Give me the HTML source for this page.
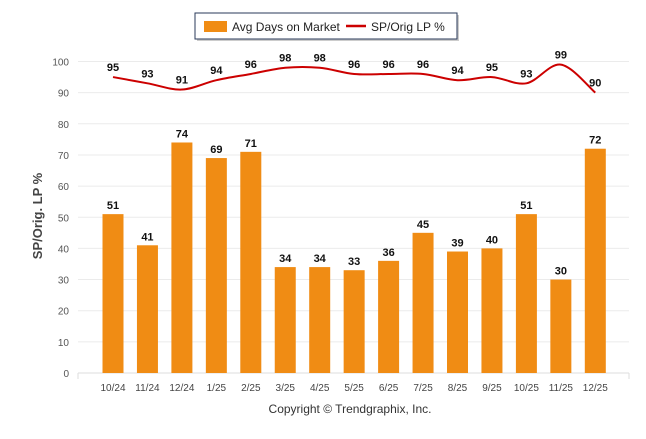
<!DOCTYPE html>
<html><head><meta charset="utf-8"><style>
body{margin:0;background:#fff;font-family:"Liberation Sans",Arial,sans-serif}
</style></head><body>
<svg id="chart" width="646" height="434" xmlns="http://www.w3.org/2000/svg" font-family="Liberation Sans, Arial, sans-serif">
<g>
<rect x="197" y="15" width="262" height="26" fill="#999" opacity="0.5"/>
<rect x="195" y="13" width="262" height="26" fill="#fff" stroke="#2a3a5a" stroke-width="1"/>
<rect x="204" y="21" width="23" height="11" fill="#f08c14"/>
<text x="232" y="31" font-size="12" fill="#222">Avg Days on Market</text>
<line x1="346" y1="26" x2="366" y2="26" stroke="#cc0000" stroke-width="2.5"/>
<text x="371" y="31" font-size="12" fill="#222">SP/Orig LP %</text>
</g>
<g id="grid"></g>
<g id="yticks"></g>
<text transform="translate(42,216) rotate(-90)" text-anchor="middle" font-size="13" font-weight="bold" fill="#444">SP/Orig. LP %</text>
<g id="bars"></g>
<g id="line"></g>
<g id="xticks"></g>
<text x="350" y="413" text-anchor="middle" font-size="12" fill="#333">Copyright © Trendgraphix, Inc.</text>
</svg>
<script>
const categories=["10/24","11/24","12/24","1/25","2/25","3/25","4/25","5/25","6/25","7/25","8/25","9/25","10/25","11/25","12/25"];
const daysValues=[51,41,74,69,71,34,34,33,36,45,39,40,51,30,72];
const spValues=[95,93,91,94,96,98,98,96,96,96,94,95,93,99,90];
const yTicks=[0,10,20,30,40,50,60,70,80,90,100];
const NS="http://www.w3.org/2000/svg";
const y0=373,yPer=3.115,x0=113,step=34.45,bw=21;
const yS=v=>y0-v*yPer, xS=i=>x0+i*step;
function mk(t,a,p){const e=document.createElementNS(NS,t);for(const k in a)e.setAttribute(k,a[k]);p.appendChild(e);return e;}
const grid=document.getElementById('grid'),yt=document.getElementById('yticks');
yTicks.forEach(v=>{
 const l=mk('line',{x1:78,x2:629,y1:yS(v),y2:yS(v),stroke:v===0?'#ddd':'#ebebeb','stroke-width':1},grid);
 
 
 const t=mk('text',{x:69,y:yS(v)+4,'text-anchor':'end','font-size':10,fill:'#555'},yt);
 t.textContent=v;
 
 
});
const bars=document.getElementById('bars'),xt=document.getElementById('xticks');
mk('line',{x1:78,x2:78,y1:y0,y2:y0+6,stroke:'#ddd'},xt);
mk('line',{x1:629,x2:629,y1:y0,y2:y0+6,stroke:'#ddd'},xt);
categories.forEach((c,i)=>{
 const r=mk('rect',{x:xS(i)-bw/2,y:yS(daysValues[i]),width:bw,height:daysValues[i]*yPer,fill:'#f08c14'},bars);
 
 
 const t=mk('text',{x:xS(i),y:yS(daysValues[i])-5,'text-anchor':'middle','font-size':11,'font-weight':'bold',fill:'#111'},bars);
 t.textContent=daysValues[i];
 
 
 const x=mk('text',{x:xS(i),y:y0+18,'text-anchor':'middle','font-size':10,fill:'#444'},xt);
 x.textContent=c;
 
 
});
const lg=document.getElementById('line');
const pts=spValues.map((v,i)=>[xS(i),yS(v)]);
let d='M'+pts[0][0]+','+pts[0][1];
for(let i=0;i<pts.length-1;i++){
 const p0=pts[i-1]||pts[i],p1=pts[i],p2=pts[i+1],p3=pts[i+2]||p2,k=1/6;
 d+=` C${p1[0]+(p2[0]-p0[0])*k},${p1[1]+(p2[1]-p0[1])*k} ${p2[0]-(p3[0]-p1[0])*k},${p2[1]-(p3[1]-p1[1])*k} ${p2[0]},${p2[1]}`;
}
const path=mk('path',{d:d,fill:'none',stroke:'#cc0000','stroke-width':2},lg);


spValues.forEach((v,i)=>{
 const t=mk('text',{x:xS(i),y:yS(v)-6,'text-anchor':'middle','font-size':11,'font-weight':'bold',fill:'#111'},lg);
 t.textContent=v;
 
 
});
</script>
</body></html>
